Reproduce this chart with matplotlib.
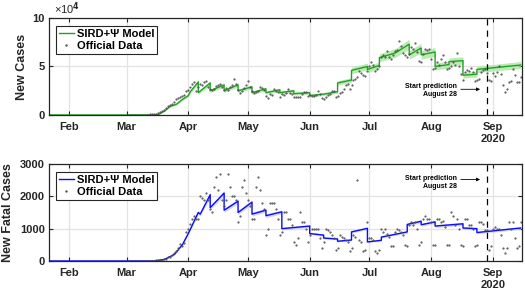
import numpy as np
import pandas as pd
import matplotlib
matplotlib.use('Agg')
import matplotlib.pyplot as plt
from matplotlib.ticker import FuncFormatter

plt.rcParams['font.family'] = ['Liberation Sans', 'DejaVu Sans']
plt.rcParams['font.weight'] = 'bold'

# model curves: breakpoints (repeated date = jump)
case_model_dates = ['2020-01-22', '2020-03-14', '2020-03-17', '2020-03-20', '2020-03-23',
                    '2020-03-26', '2020-03-29', '2020-04-01', '2020-04-02', '2020-04-06',
                    '2020-04-06', '2020-04-12', '2020-04-12', '2020-04-19', '2020-04-19',
                    '2020-04-26', '2020-04-26', '2020-05-03', '2020-05-03', '2020-05-10',
                    '2020-05-10', '2020-05-17', '2020-05-17', '2020-05-24', '2020-05-24',
                    '2020-06-01', '2020-06-01', '2020-06-08', '2020-06-15', '2020-06-15',
                    '2020-06-22', '2020-06-22', '2020-06-30', '2020-06-30', '2020-07-06',
                    '2020-07-06', '2020-07-14', '2020-07-21', '2020-07-21', '2020-07-27',
                    '2020-07-27', '2020-08-03', '2020-08-03', '2020-08-10', '2020-08-10',
                    '2020-08-17', '2020-08-17', '2020-08-24', '2020-08-24', '2020-09-15']
case_model_k = [0, 0, 0.5, 4, 9,
                11, 16, 20, 24, 34,
                23, 33, 25, 31, 25,
                31, 25, 29, 23, 27,
                23, 26, 23, 25, 22,
                23, 20, 21.5, 24, 33,
                36, 46, 50, 47, 51,
                59, 64, 73, 62, 69,
                62, 65, 50, 52, 55,
                56, 41, 42, 47, 51.5]

fatal_model_dates = ['2020-01-22', '2020-03-15', '2020-03-20', '2020-03-25', '2020-03-29',
                     '2020-04-01', '2020-04-06', '2020-04-07', '2020-04-12', '2020-04-12',
                     '2020-04-19', '2020-04-19', '2020-04-26', '2020-04-26', '2020-05-03',
                     '2020-05-03', '2020-05-10', '2020-05-10', '2020-05-18', '2020-05-18',
                     '2020-06-01', '2020-06-01', '2020-06-08', '2020-06-08', '2020-06-15',
                     '2020-06-15', '2020-06-22', '2020-06-22', '2020-06-30', '2020-06-30',
                     '2020-07-07', '2020-07-07', '2020-07-20', '2020-07-20', '2020-07-27',
                     '2020-07-27', '2020-08-03', '2020-08-03', '2020-08-17', '2020-08-17',
                     '2020-08-24', '2020-08-24', '2020-09-15']
fatal_model = [0, 0, 50, 200, 500,
               850, 1500, 1450, 2050, 1650,
               2100, 1570, 1850, 1500, 1820,
               1450, 1570, 1400, 1520, 1000,
               1080, 850, 800, 710, 680,
               610, 650, 900, 1010, 590,
               640, 740, 900, 1130, 1230,
               1120, 1210, 1080, 1150, 1020,
               1000, 880, 1020]

# official daily data from March 1 (cases in thousands)
data_start = '2020-03-01'
cases_k = [0.01, 0.02, 0.03, 0.03, 0.07, 0.06, 0.1, 0.12, 0.12, 0.3,
           0.3, 0.45, 0.6, 0.6, 0.8, 1.0, 1.8, 2.8, 4.5, 5.6,
           6.8, 9, 10, 11, 13, 17, 18, 19, 20, 21, 25,
           26, 29, 32, 34, 25, 29, 32, 31, 34, 35, 29, 27, 26, 27, 30,
           31, 32, 29, 26, 28, 26, 29, 31, 37, 32, 26, 23, 25, 28, 31,
           35, 29, 25, 23, 24, 25, 29, 28, 26, 20, 18, 22, 21, 27, 25, 24,
           19, 22, 21, 23, 27, 23, 22, 19, 19, 19, 19, 22, 24, 24, 20,
           21, 20, 20, 21, 25, 22, 18, 17, 19, 21, 22, 25, 25, 19, 20,
           23, 24, 27, 31, 32, 27, 31, 36, 37, 39, 45, 43, 41, 40, 45,
           51, 55, 52, 45, 47, 50, 60, 62, 60, 66, 60, 58, 62, 66, 67, 76,
           71, 64, 62, 60, 63, 70, 68, 74, 65, 56, 55, 63, 68, 67, 68,
           58, 47, 48, 55, 52, 58, 62, 55, 47, 48, 51, 55, 52, 64, 51, 42,
           36, 44, 46, 45, 48, 44, 35, 36, 37, 44, 46, 47, 43, 36, 35,
           43, 40, 44, 50, 42, 31, 24, 27, 34, 35, 47, 41, 34, 34, 39]
fatal = [0, 1, 3, 4, 3, 2, 3, 4, 4, 5, 7, 8, 12, 7, 11, 17,
         22, 30, 40, 60, 60, 110, 130, 180, 250, 300, 400, 520, 470, 570, 900,
         1000, 1150, 1300, 1400, 1300, 1300, 2000, 1950, 1900, 2100, 1900, 1600, 1500, 2300, 2600,
         2200, 2700, 1900, 1700, 1900, 2700, 2300, 2000, 2000, 1900, 1200, 1400, 2300, 2500, 2100,
         1900, 1700, 1300, 1300, 2300, 2600, 2200, 1800, 1600, 800, 1000, 1800, 1800, 1800, 1600, 1300,
         800, 900, 1500, 1500, 1300, 1300, 1100, 600, 500, 700, 1500, 1200, 1200, 1000, 600,
         800, 1000, 1000, 1000, 1000, 700, 400, 600, 1000, 950, 900, 800, 700, 350, 400,
         800, 750, 700, 650, 600, 300, 400, 800, 750, 2500, 650, 600, 300, 350, 1200,
         700, 700, 650, 300, 250, 350, 1000, 900, 1000, 850, 750, 450, 450, 900, 1000, 950,
         900, 800, 500, 450, 1100, 1200, 1100, 1200, 1000, 500, 600, 1300, 1400, 1300, 1300,
         1200, 500, 500, 1300, 1300, 1200, 1250, 1050, 500, 500, 1500, 1400, 1100, 1300, 1000, 500,
         450, 1300, 1300, 1100, 1100, 1000, 450, 500, 1200, 1200, 1150, 950, 950, 350, 450,
         1000, 1050, 1000, 1000, 800, 400, 250, 400, 1200, 1000, 1200, 700, 400, 450, 1200]

month_ticks = ['2020-02-01', '2020-03-01', '2020-04-01', '2020-05-01',
               '2020-06-01', '2020-07-01', '2020-08-01', '2020-09-01']
month_labels = ['Feb', 'Mar', 'Apr', 'May', 'Jun', 'Jul', 'Aug', 'Sep\n2020']
pred_date = '2020-08-29'

cm_x = pd.to_datetime(case_model_dates)
cm_y = np.array(case_model_k) * 1000
fm_x = pd.to_datetime(fatal_model_dates)
fm_y = np.array(fatal_model, dtype=float)
cases_x = pd.date_range(data_start, periods=len(cases_k))
fatal_x = pd.date_range(data_start, periods=len(fatal))

fig = plt.figure(figsize=(5.25, 2.95), dpi=100)
ax1 = fig.add_axes([0.0933, 0.6102, 0.901, 0.3288])
ax2 = fig.add_axes([0.0933, 0.1153, 0.901, 0.3288])


def style(ax):
    ax.set_xlim(pd.Timestamp('2020-01-22'), pd.Timestamp('2020-09-15 16:00'))
    ax.set_xticks(pd.to_datetime(month_ticks))
    ax.set_xticklabels(month_labels)
    ax.grid(True, color='#e3e3e3', linewidth=0.9)
    ax.set_axisbelow(True)
    ax.tick_params(direction='in', length=3, width=0.8, top=True, right=True,
                   labelsize=8, color='#262626')
    ax.tick_params(axis='x', pad=5)
    ax.tick_params(axis='y', pad=3)
    for s in ax.spines.values():
        s.set_color('#262626')
        s.set_linewidth(0.9)
    for lb in ax.get_xticklabels() + ax.get_yticklabels():
        lb.set_fontweight('bold')
        lb.set_color('#262626')


# top: new cases
ax1.fill_between(cm_x, cm_y * 0.93, cm_y * 1.07, color='#a8e6a0', alpha=0.8, lw=0)
ax1.plot(cm_x, cm_y, color='#22a022', lw=1.0, label='SIRD+Ψ Model')
ax1.plot(cases_x, np.array(cases_k) * 1000, '.', color='#505050', ms=1.1,
         label='Official Data')
ax1.axvline(pd.Timestamp(pred_date), color='k', ls=(0, (5, 4)), lw=0.9)
ax1.set_ylim(0, 100000)
ax1.set_yticks([0, 50000, 100000])
ax1.yaxis.set_major_formatter(FuncFormatter(lambda v, p: '%d' % round(v / 1e4)))
ax1.text(0.01, 1.01, '×10$^4$', transform=ax1.transAxes, fontsize=8,
         fontweight='normal', color='#262626', va='bottom', ha='left')
ax1.set_ylabel('New Cases', fontsize=9, fontweight='bold', color='#262626')
ax1.yaxis.set_label_coords(-0.045, 0.5)
style(ax1)

ax1.text(pd.Timestamp('2020-08-14'), 25500, 'Start prediction\nAugust 28', fontsize=5,
         ha='right', va='center', multialignment='right', linespacing=1.2)
ax1.annotate('', xy=(pd.Timestamp('2020-08-27'), 26500),
             xytext=(pd.Timestamp('2020-08-14 12:00'), 26500),
             arrowprops=dict(arrowstyle='-|>', color='k', lw=0.6, mutation_scale=5))

# bottom: fatal cases
ax2.fill_between(fm_x, fm_y * 0.96, fm_y * 1.04, color='#c8cdfa', alpha=0.8, lw=0)
ax2.plot(fm_x, fm_y, color='#0a0aff', lw=1.0, label='SIRD+Ψ Model')
ax2.plot(fatal_x, fatal, '.', color='#505050', ms=1.1, label='Official Data')
ax2.axvline(pd.Timestamp(pred_date), color='k', ls=(0, (5, 4)), lw=0.9)
ax2.set_ylim(0, 3000)
ax2.set_yticks([0, 1000, 2000, 3000])
ax2.set_ylabel('New Fatal Cases', fontsize=9, fontweight='bold', color='#262626')
ax2.yaxis.set_label_coords(-0.075, 0.5)
style(ax2)

ax2.text(pd.Timestamp('2020-08-14'), 2420, 'Start prediction\nAugust 28', fontsize=5,
         ha='right', va='center', multialignment='right', linespacing=1.2)
ax2.annotate('', xy=(pd.Timestamp('2020-08-27'), 2520),
             xytext=(pd.Timestamp('2020-08-14 12:00'), 2520),
             arrowprops=dict(arrowstyle='-|>', color='k', lw=0.6, mutation_scale=5))

for ax in (ax1, ax2):
    leg = ax.legend(loc='upper left', bbox_to_anchor=(0.004, 0.97),
                    prop={'weight': 'bold', 'size': 8}, handlelength=1.3,
                    handletextpad=0.3, borderpad=0.25, labelspacing=0.15,
                    markerscale=1.3, fancybox=False, framealpha=1)
    leg.get_frame().set_edgecolor('#262626')
    leg.get_frame().set_linewidth(0.8)

fig.savefig('out.png', dpi=100)
